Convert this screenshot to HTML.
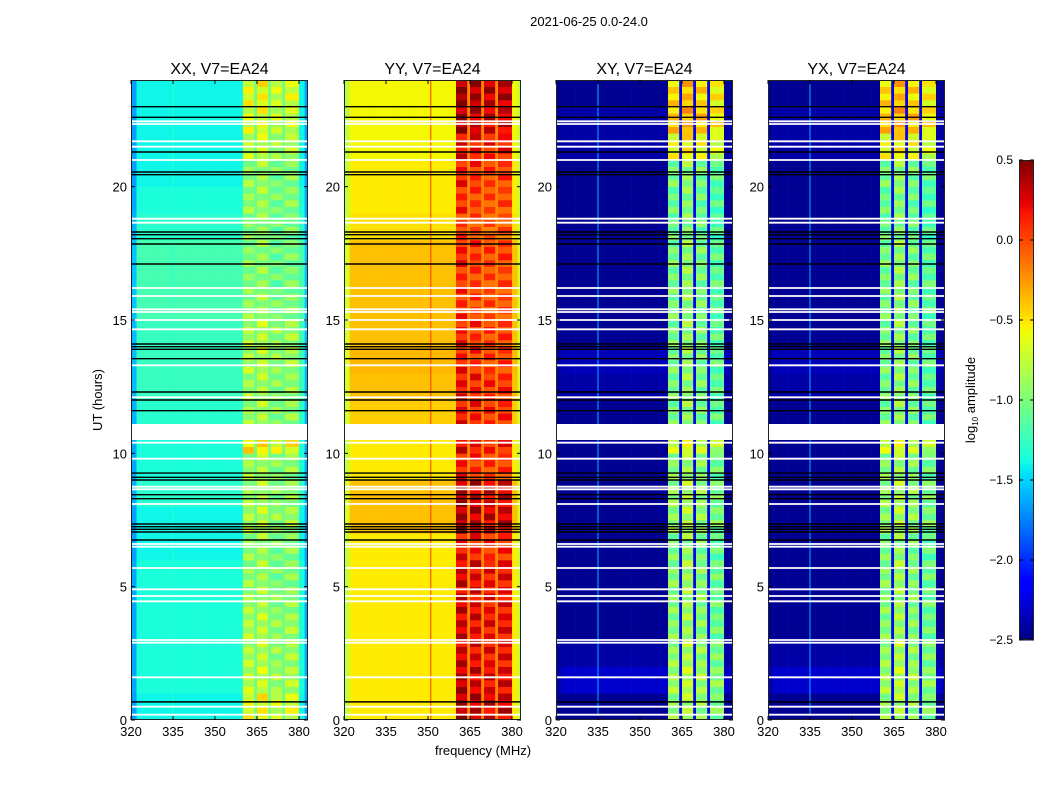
<!DOCTYPE html>
<html><head><meta charset="utf-8">
<style>
html,body{margin:0;padding:0;background:#fff;}
svg{display:block;font-family:"Liberation Sans","DejaVu Sans",sans-serif;}
</style></head>
<body>
<svg id="fig" width="1050" height="800" viewBox="0 0 1050 800" xmlns="http://www.w3.org/2000/svg">
<rect width="1050" height="800" fill="#fff"/>
<text x="589" y="26" font-size="13" text-anchor="middle">2021-06-25 0.0-24.0</text>
<text transform="translate(102,400) rotate(-90)" font-size="13" text-anchor="middle">UT (hours)</text>
<text x="483" y="755" font-size="13" text-anchor="middle">frequency (MHz)</text>
<g id="panels"></g>
<g id="cbar"></g>
<text transform="translate(975,400) rotate(-90)" font-size="13" text-anchor="middle">log<tspan font-size="8" dy="3">10</tspan><tspan dy="-3"> amplitude</tspan></text>
</svg>
<script>
// ---- data ----
const panelTitles = ["XX, V7=EA24","YY, V7=EA24","XY, V7=EA24","YX, V7=EA24"];
const xTicks = [320,335,350,365,380];
const yTicks = [0,5,10,15,20];
const cbTicks = [0.5,0.0,-0.5,-1.0,-1.5,-2.0,-2.5];
// channel classes for 1-MHz channels 320..383
const chanClass = ["e","e","b","b","b","b","b","b","b","b","b","b","b","b","b","b","b","b","b","b","b","b","b","b","b","b","b","b","b","b","b","b","b","b","b","b","b","b","b","b","B0","B0","B0","B0","g","B1","B1","B1","B1","g","B2","B2","B2","B2","g","B3","B3","B3","B3","B3","b","b","e","e"];
// per-panel levels (log10 amplitude)
const edgeLevel = [-1.65,-0.75,-2.45,-2.45];
const gapLevel = [-1.05,-0.2,-2.2,-2.2];
const vLineFreq = [335,351,335,335];
const vLineLevel = [-1.3,0.05,-1.6,-1.6];
const subOff = [[0,0.05,-0.1,-0.05],[0.1,0.05,0,0],[0,0.1,0,-0.1],[0,0.1,0,-0.1]];
const bandXX = [-0.6,-0.75,-0.8,-0.8,-0.85,-0.9,-0.9,-0.8,-0.85,-0.85,-0.5,-0.85,-0.85,-0.8,-0.8,-0.9,-0.95,-0.95,-0.95,-0.9,-0.9,-0.75,-0.65,-0.6];
const baseXX = [-1.4,-1.35,-1.35,-1.35,-1.35,-1.35,-1.4,-1.4,-1.3,-1.35,-1.35,-1.3,-1.25,-1.25,-1.25,-1.2,-1.2,-1.2,-1.3,-1.35,-1.4,-1.4,-1.4,-1.4];
const bandYY = [0.3,0.25,0.2,0.2,0.2,0.2,0.1,0.3,0.3,0.05,0.15,0.1,0.1,0.05,0.05,0.0,0.0,0.05,-0.05,0.0,0.05,0.15,0.3,0.35];
const baseYY = [-0.52,-0.52,-0.52,-0.52,-0.52,-0.52,-0.52,-0.38,-0.38,-0.52,-0.52,-0.42,-0.38,-0.35,-0.38,-0.38,-0.38,-0.38,-0.48,-0.52,-0.52,-0.56,-0.56,-0.56];
const bandXY = [-0.9,-0.85,-0.9,-0.95,-0.95,-0.95,-1.0,-0.9,-0.9,-0.95,-0.7,-1.0,-1.0,-1.0,-1.0,-1.0,-1.0,-1.0,-1.05,-1.05,-1.0,-0.6,-0.4,-0.45];
const baseXY = [-2.45,-2.3,-2.4,-2.45,-2.45,-2.45,-2.45,-2.45,-2.45,-2.45,-2.45,-2.45,-2.4,-2.35,-2.45,-2.45,-2.45,-2.45,-2.45,-2.45,-2.45,-2.4,-2.4,-2.45];
const bandYX = bandXY.slice();
const baseYX = baseXY.slice();
const quarterPattern = [0.12,-0.1,0.06,-0.14];
const gapHours = [[10.5,11.1]];
const blackLines = [23.0,22.6,21.3,20.55,20.45,18.3,18.2,18.05,17.85,17.1,14.1,14.0,13.9,13.55,12.3,12.0,11.6,9.26,9.1,9.0,8.45,8.3,7.35,7.25,7.15,7.05,6.75,0.68];
const whiteLines = [22.45,22.35,21.7,21.5,21.0,18.8,18.65,16.2,15.9,15.4,15.3,15.0,14.65,13.3,12.1,10.4,9.8,8.75,8.65,8.1,6.6,6.5,5.7,4.9,4.65,4.45,3.0,2.9,1.6,0.5,0.2];
const bandRows = [bandXX,bandYY,bandXY,bandYX];
const baseRows = [baseXX,baseYY,baseXY,baseYX];

// ---- layout ----
const panelLeft = [131,344,556,768];
const PW = 177, PT = 80, PB = 720;
const fMin = 320, fMax = 320 + PW/2.8;
const tMax = 24;
function xs(p,f){return panelLeft[p] + (f - fMin)/(fMax - fMin)*PW;}
function ys(h){return PB - h/tMax*(PB-PT);}
function jetc(v){
  let t=(v+2.5)/3; t=Math.max(0,Math.min(1,t));
  function interp(pts){for(let i=1;i<pts.length;i++){if(t<=pts[i][0]){const a=pts[i-1],b=pts[i];return a[1]+(b[1]-a[1])*(t-a[0])/(b[0]-a[0]);}}return pts[pts.length-1][1];}
  const r=interp([[0,0],[0.35,0],[0.66,1],[0.89,1],[1,0.5]]);
  const g=interp([[0,0],[0.125,0],[0.375,1],[0.64,1],[0.91,0],[1,0]]);
  const b=interp([[0,0.5],[0.11,1],[0.34,1],[0.65,0],[1,0]]);
  return `rgb(${Math.round(r*255)},${Math.round(g*255)},${Math.round(b*255)})`;
}
const NS="http://www.w3.org/2000/svg";
function mk(tag,attrs,parent){const e=document.createElementNS(NS,tag);for(const k in attrs)e.setAttribute(k,attrs[k]);parent.appendChild(e);return e;}
const root=document.getElementById('panels');
const defs=mk('defs',{},root);

for(let p=0;p<4;p++){
  const g=mk('g',{},root);
  
  
  const cp=mk('clipPath',{id:'clip'+p},defs);
  mk('rect',{x:panelLeft[p],y:PT,width:PW,height:PB-PT},cp);
  const hm=mk('g',{'clip-path':'url(#clip'+p+')'},g);
  
  
  for(let r=0;r<96;r++){
    const h0=r*0.25, hr=Math.floor(h0), q=r%4;
    const y0=ys(h0+0.25), y1=ys(h0);
    for(let c=0;c<chanClass.length;c++){
      const cl=chanClass[c];
      let v;
      if(cl==='e') v=edgeLevel[p]+(baseRows[p][hr]-baseRows[p][0])*0.5;
      else if(cl==='b') v=baseRows[p][hr];
      else if(cl==='g') v=gapLevel[p];
      else { const s=+cl[1]; v=bandRows[p][hr]+subOff[p][s]+quarterPattern[(q+s)%4]; }
      const x0=xs(p,fMin+c), x1=xs(p,fMin+c+1);
      const cell=mk('rect',{x:x0.toFixed(2),y:y0.toFixed(2),width:(x1-x0+0.3).toFixed(2),height:(y1-y0+0.3).toFixed(2),fill:jetc(v)},hm);
      
      
    }
  }
  const vl=mk('line',{x1:xs(p,vLineFreq[p]),x2:xs(p,vLineFreq[p]),y1:PT,y2:PB,stroke:jetc(vLineLevel[p]),'stroke-width':1},hm);
  
  
  gapHours.forEach(gh=>{
    const gr=mk('rect',{x:panelLeft[p],y:ys(gh[1]),width:PW,height:ys(gh[0])-ys(gh[1]),fill:'#fff'},hm);
    
    
  });
  whiteLines.forEach(h=>{
    const l=mk('line',{x1:panelLeft[p],x2:panelLeft[p]+PW,y1:ys(h),y2:ys(h),stroke:'#fff','stroke-width':1.8},hm);
    
    
  });
  blackLines.forEach(h=>{
    const l=mk('line',{x1:panelLeft[p],x2:panelLeft[p]+PW,y1:ys(h),y2:ys(h),stroke:'#000','stroke-width':1.4},hm);
    
    
  });
  const fr=mk('rect',{x:panelLeft[p]+0.5,y:PT+0.5,width:PW-1,height:PB-PT-1,fill:'none',stroke:'#222','stroke-width':1},g);
  
  
  const tt=mk('text',{x:panelLeft[p]+PW/2,y:74,'font-size':16,'text-anchor':'middle'},g);
  tt.textContent=panelTitles[p];
  
  
  xTicks.forEach(f=>{
    const x=xs(p,f);
    mk('line',{x1:x,x2:x,y1:PB,y2:PB-4,stroke:'#000'},g);
    mk('line',{x1:x,x2:x,y1:PT,y2:PT+4,stroke:'#000'},g);
    const t=mk('text',{x:x,y:PB+16,'font-size':13,'text-anchor':'middle'},g);
    t.textContent=f;
    
    
  });
  yTicks.forEach(h=>{
    const y=ys(h);
    mk('line',{x1:panelLeft[p],x2:panelLeft[p]+4,y1:y,y2:y,stroke:'#000'},g);
    mk('line',{x1:panelLeft[p]+PW,x2:panelLeft[p]+PW-4,y1:y,y2:y,stroke:'#000'},g);
    const t=mk('text',{x:panelLeft[p]-4,y:y+5,'font-size':13,'text-anchor':'end'},g);
    t.textContent=h;
    
    
  });
}
// colorbar
const cb=document.getElementById('cbar');
const CX=1019,CW=15,CT=160,CB=640;
function cy(v){return CB-(v+2.5)/3*(CB-CT);}
for(let i=0;i<120;i++){
  const v0=-2.5+i*3/120, v1=v0+3/120;
  mk('rect',{x:CX,y:cy(v1),width:CW,height:cy(v0)-cy(v1)+0.5,fill:jetc((v0+v1)/2)},cb);
}
mk('rect',{x:CX+0.5,y:CT+0.5,width:CW-1,height:CB-CT-1,fill:'none',stroke:'#222'},cb);
cbTicks.forEach(v=>{
  const y=cy(v);
  mk('line',{x1:CX,x2:CX+4,y1:y,y2:y,stroke:'#000'},cb);
  mk('line',{x1:CX+CW,x2:CX+CW-4,y1:y,y2:y,stroke:'#000'},cb);
  const t=mk('text',{x:CX-6,y:y+4,'font-size':12,'text-anchor':'end'},cb);
  t.textContent=(v<0?'\u2212':'')+Math.abs(v).toFixed(1);
  
  
});
</script>
</body></html>
